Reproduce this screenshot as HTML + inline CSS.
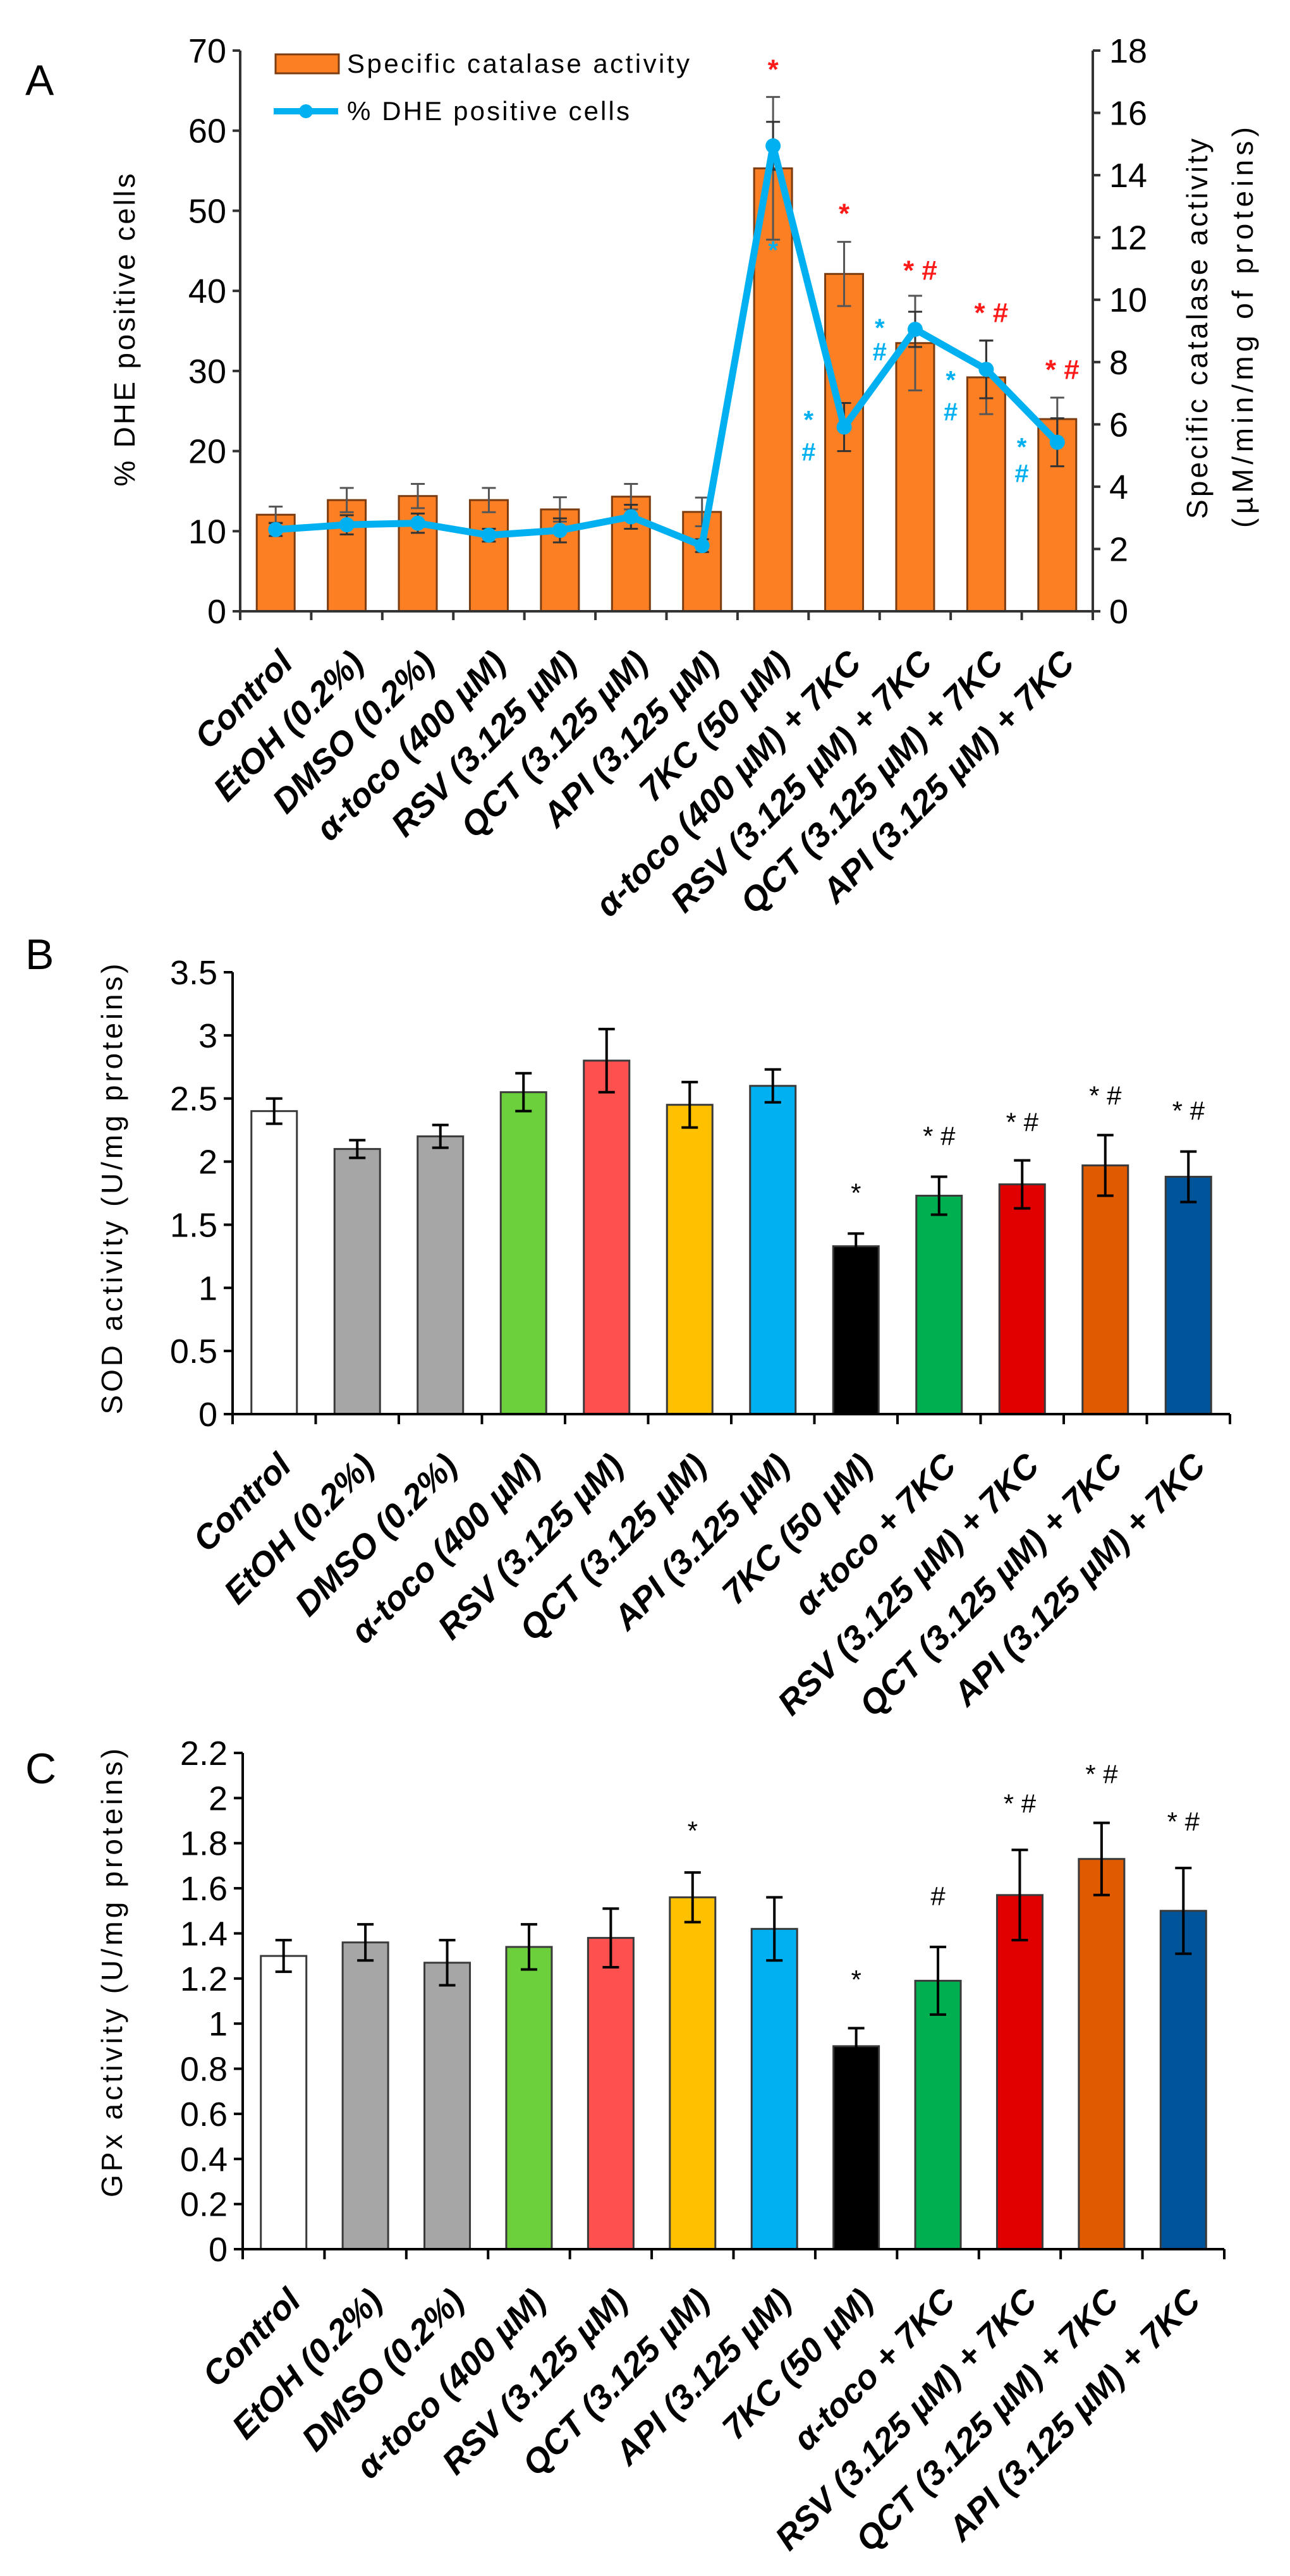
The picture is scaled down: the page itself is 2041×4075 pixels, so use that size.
<!DOCTYPE html>
<html><head><meta charset="utf-8"><style>
html,body{margin:0;padding:0;background:#fff;}
svg{display:block;}
text{font-family:"Liberation Sans",sans-serif;}
</style></head><body>
<svg id="fig" width="2041" height="4075" viewBox="0 0 2041 4075" xmlns="http://www.w3.org/2000/svg">
<text x="40" y="150" font-size="68">A</text>
<text x="40" y="1533" font-size="68">B</text>
<text x="40" y="2821" font-size="68">C</text>
<g id="pa"></g>
<g id="pb"></g>
<g id="pc"></g>
</svg>
<script>
// shared categories
const catsA = ["Control","EtOH (0.2%)","DMSO (0.2%)","α-toco (400 µM)","RSV (3.125 µM)","QCT (3.125 µM)","API (3.125 µM)","7KC (50 µM)","α-toco (400 µM) + 7KC","RSV (3.125 µM) + 7KC","QCT (3.125 µM) + 7KC","API (3.125 µM) + 7KC"];
const catsBC = ["Control","EtOH (0.2%)","DMSO (0.2%)","α-toco (400 µM)","RSV (3.125 µM)","QCT (3.125 µM)","API (3.125 µM)","7KC (50 µM)","α-toco + 7KC","RSV (3.125 µM)  + 7KC","QCT (3.125 µM)  + 7KC","API (3.125 µM)  + 7KC"];
// Panel A data
const catalase = [3.10,3.57,3.70,3.57,3.27,3.68,3.19,14.22,10.83,8.61,7.51,6.17];
const catalaseErr = [0.26,0.39,0.39,0.39,0.39,0.41,0.46,2.29,1.03,1.52,1.18,0.69];
const dhe = [10.2,10.8,11.0,9.5,10.1,11.8,8.2,58.1,23.0,35.2,30.2,21.1];
const dheErr = [0.8,1.2,1.2,0.8,1.5,1.5,0.8,3.0,3.0,2.2,3.6,3.0];
const leftTicksA = [0,10,20,30,40,50,60,70];
const rightTicksA = [0,2,4,6,8,10,12,14,16,18];
const redSigA = [null,null,null,null,null,null,null,"*","*","* #","* #","* #"];
const redSigAVal = [0,0,0,0,0,0,0,67.6,49.6,42.5,37.2,30.1];
const blueStarVal = [0,0,0,0,0,0,0,45.3,24.1,35.6,29.1,20.7];
const blueHashVal = [0,0,0,0,0,0,0,0,20.1,32.6,25.1,17.4];
// Panel B data
const sod = [2.40,2.10,2.20,2.55,2.80,2.45,2.60,1.33,1.73,1.82,1.97,1.88];
const sodErr = [0.10,0.07,0.09,0.15,0.25,0.18,0.13,0.10,0.15,0.19,0.24,0.20];
const sodTicks = [0,0.5,1,1.5,2,2.5,3,3.5];
const sodSig = ["","","","","","","","*","* #","* #","* #","* #"];
const sodSigVal = [0,0,0,0,0,0,0,1.76,2.21,2.32,2.53,2.41];
// Panel C data
const gpx = [1.30,1.36,1.27,1.34,1.38,1.56,1.42,0.90,1.19,1.57,1.73,1.50];
const gpxErr = [0.07,0.08,0.10,0.10,0.13,0.11,0.14,0.08,0.15,0.20,0.16,0.19];
const gpxTicks = [0,0.2,0.4,0.6,0.8,1,1.2,1.4,1.6,1.8,2,2.2];
const gpxSig = ["","","","","","*","","*","#","* #","* #","* #"];
const gpxSigVal = [0,0,0,0,0,1.86,0,1.20,1.57,1.98,2.11,1.90];

const barColors = ["#ffffff","#a6a6a6","#a6a6a6","#6cd03c","#ff5050","#ffc000","#00b0f0","#000000","#00b050","#e00000","#e05a00","#00559a"];
const NS="http://www.w3.org/2000/svg";
function mk(parent,tag,attrs,txt){const e=document.createElementNS(NS,tag);for(const k in attrs)e.setAttribute(k,attrs[k]);if(txt!==undefined)e.textContent=txt;parent.appendChild(e);return e;}

function xLabels(g,cats,xc,y0,dy){
  cats.forEach((c,i)=>{
    const x=xc(i)+30,y=y0+dy;
    const t=mk(g,"text",{x:x,y:y,"font-size":54,"font-style":"italic","font-weight":"600","text-anchor":"end",transform:`rotate(-45 ${x} ${y})`},c);
    
    
  });
}
function errBar(g,x,yTop,yBot,cap,col,w){
  const e=mk(g,"path",{d:`M${x-cap} ${yTop}H${x+cap}M${x} ${yTop}V${yBot}M${x-cap} ${yBot}H${x+cap}`,stroke:col,"stroke-width":w,fill:"none"});
  
  
}

// ---------- Panel A ----------
(function(){
  const g=document.getElementById("pa");
  const X0=380,X1=1729,Y0=967,YT=80,n=catsA.length,cw=(X1-X0)/n;
  const xc=i=>X0+cw*(i+0.5);
  const yL=v=>Y0-(v/70)*(Y0-YT);
  const yR=v=>Y0-(v/18)*(Y0-YT);
  catalase.forEach((v,i)=>{
    const b=mk(g,"rect",{x:xc(i)-30,y:yR(v),width:60,height:Y0-yR(v),fill:"#fd7f23",stroke:"#7a3c10","stroke-width":3});
    
    
    errBar(g,xc(i),yR(v+catalaseErr[i]),yR(v-catalaseErr[i]),11,"#555",3);
  });
  dhe.forEach((v,i)=>errBar(g,xc(i),yL(v+dheErr[i]),yL(v-dheErr[i]),11,"#333",3));
  const pts=dhe.map((v,i)=>`${xc(i)},${yL(v)}`).join(" ");
  const pl=mk(g,"polyline",{points:pts,fill:"none",stroke:"#00b0f0","stroke-width":11,"stroke-linejoin":"round"});
  
  
  dhe.forEach((v,i)=>{
    const c=mk(g,"circle",{cx:xc(i),cy:yL(v),r:12,fill:"#00b0f0"});
    
    
  });
  redSigA.forEach((s,i)=>{
    if(!s)return;
    const t=mk(g,"text",{x:xc(i)+(s.length>1?8:0),y:yL(redSigAVal[i])+14,"font-size":44,fill:"#ff1a1a","text-anchor":"middle","font-weight":"bold"},s);
    
    
  });
  blueStarVal.forEach((v,i)=>{
    if(!v)return;
    const x=i===7?xc(i):xc(i)-cw/2;
    const t=mk(g,"text",{x:x,y:yL(v)+16,"font-size":40,fill:"#00b0f0","text-anchor":"middle","font-weight":"bold"},"*");
    
    
  });
  blueHashVal.forEach((v,i)=>{
    if(!v)return;
    const t=mk(g,"text",{x:xc(i)-cw/2,y:yL(v)+16,"font-size":40,fill:"#00b0f0","text-anchor":"middle","font-weight":"bold"},"#");
    
    
  });
  const ax=mk(g,"path",{d:`M${X0} ${YT}V${Y0}H${X1}V${YT}`,stroke:"#333","stroke-width":4,fill:"none"});
  
  
  leftTicksA.forEach(v=>{
    mk(g,"line",{x1:X0-12,x2:X0,y1:yL(v),y2:yL(v),stroke:"#333","stroke-width":4});
    const t=mk(g,"text",{x:X0-22,y:yL(v)+19,"font-size":54,"text-anchor":"end"},v);
    
    
  });
  rightTicksA.forEach(v=>{
    mk(g,"line",{x1:X1,x2:X1+12,y1:yR(v),y2:yR(v),stroke:"#333","stroke-width":4});
    const t=mk(g,"text",{x:X1+26,y:yR(v)+19,"font-size":54},v);
    
    
  });
  for(let i=0;i<=n;i++)mk(g,"line",{x1:X0+cw*i,x2:X0+cw*i,y1:Y0,y2:Y0+14,stroke:"#333","stroke-width":4});
  xLabels(g,catsA,xc,Y0,85);
  let t=mk(g,"text",{x:0,y:0,"font-size":46,"text-anchor":"middle",transform:"translate(213 522) rotate(-90)",textLength:495},"% DHE positive cells");
  
  
  t=mk(g,"text",{x:0,y:0,"font-size":46,"text-anchor":"middle",transform:"translate(1910 520) rotate(-90)",textLength:602},"Specific catalase activity");
  
  
  t=mk(g,"text",{x:0,y:0,"font-size":46,"text-anchor":"middle",transform:"translate(1982 518) rotate(-90)",textLength:634},"(µM/min/mg of proteins)");
  
  
  const lg=mk(g,"g",{});
  
  
  mk(lg,"rect",{x:436,y:86,width:100,height:30,fill:"#fd7f23",stroke:"#7a3c10","stroke-width":3});
  t=mk(lg,"text",{x:549,y:115,"font-size":42,textLength:542},"Specific catalase activity");
  
  
  mk(lg,"line",{x1:433,x2:535,y1:176,y2:176,stroke:"#00b0f0","stroke-width":10});
  mk(lg,"circle",{cx:484,cy:176,r:11,fill:"#00b0f0"});
  t=mk(lg,"text",{x:549,y:190,"font-size":42,textLength:447},"% DHE positive cells");
  
  
})();

// ---------- Panels B & C ----------
function barPanel(id,cats,vals,errs,ticks,tickMax,sig,sigVal,X0,X1,YT,Y0,title,titleX,titleY,titleLen,prefix){
  const g=document.getElementById(id);
  const n=cats.length,cw=(X1-X0)/n;
  const xc=i=>X0+cw*(i+0.5);
  const y=v=>Y0-(v/tickMax)*(Y0-YT);
  vals.forEach((v,i)=>{
    const b=mk(g,"rect",{x:xc(i)-36,y:y(v),width:72,height:Y0-y(v),fill:barColors[i],stroke:"#3a3a3a","stroke-width":3});
    
    
    errBar(g,xc(i),y(v+errs[i]),y(v-errs[i]),13,"#000",4);
    if(sig[i]){
      const t=mk(g,"text",{x:xc(i),y:y(sigVal[i])+16,"font-size":42,"text-anchor":"middle"},sig[i]);
      
      
    }
  });
  const ax=mk(g,"path",{d:`M${X0} ${YT}V${Y0}H${X1}`,stroke:"#000","stroke-width":4,fill:"none"});
  
  
  ticks.forEach(v=>{
    mk(g,"line",{x1:X0-14,x2:X0,y1:y(v),y2:y(v),stroke:"#000","stroke-width":4});
    const t=mk(g,"text",{x:X0-24,y:y(v)+19,"font-size":54,"text-anchor":"end"},String(v));
    
    
  });
  for(let i=0;i<=n;i++)mk(g,"line",{x1:X0+cw*i,x2:X0+cw*i,y1:Y0,y2:Y0+16,stroke:"#000","stroke-width":4});
  xLabels(g,cats,xc,Y0,85);
  const t=mk(g,"text",{x:0,y:0,"font-size":46,"text-anchor":"middle",transform:`translate(${titleX} ${titleY}) rotate(-90)`,textLength:titleLen},title);
  
  
}
barPanel("pb",catsBC,sod,sodErr,sodTicks,3.5,sodSig,sodSigVal,368,1946,1538,2237,"SOD activity (U/mg proteins)",193,1881,713,"sod");
barPanel("pc",catsBC,gpx,gpxErr,gpxTicks,2.2,gpxSig,gpxSigVal,384,1937,2773,3558,"GPx activity (U/mg proteins)",193,3121,710,"gpx");
</script>
</body></html>
